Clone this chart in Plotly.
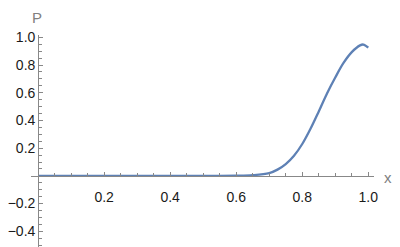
import plotly.graph_objects as go

# data
x_vals = [0.0, 0.1, 0.2, 0.3, 0.4, 0.5, 0.6, 0.65, 0.7, 0.725, 0.75, 0.775, 0.8,
          0.825, 0.85, 0.875, 0.9, 0.925, 0.95, 0.975, 0.985, 1.0]
p_vals = [0.0, 0.0, 0.0, 0.0, 0.0, 0.0, 0.001, 0.005, 0.02, 0.045, 0.085, 0.145, 0.23,
          0.34, 0.465, 0.595, 0.71, 0.815, 0.893, 0.942, 0.948, 0.925]

xtick_vals = [0.2, 0.4, 0.6, 0.8, 1.0]
xtick_text = ["0.2", "0.4", "0.6", "0.8", "1.0"]
ytick_vals = [-0.4, -0.2, 0.2, 0.4, 0.6, 0.8, 1.0]
ytick_text = ["\u22120.4", "\u22120.2", "0.2", "0.4", "0.6", "0.8", "1.0"]
xminor_vals = [0.05, 0.1, 0.15, 0.25, 0.3, 0.35, 0.45, 0.5, 0.55, 0.65, 0.7, 0.75,
               0.85, 0.9, 0.95]
yminor_vals = [-0.5, -0.45, -0.35, -0.3, -0.25, -0.15, -0.1, -0.05, 0.05, 0.1, 0.15,
               0.25, 0.3, 0.35, 0.45, 0.5, 0.55, 0.65, 0.7, 0.75, 0.85, 0.9, 0.95]
x_label = "x"
y_label = "P"

W, H = 400, 247
axis_color = "#888888"
label_color = "#1a1a1a"
title_color = "#808080"
font_family = "Liberation Sans, Arial, sans-serif"

# pixel layout
x0_px, xscale = 38.5, 333.5
y0_px, yscale = 174.1, 142.0
xd0, xd1 = 31, 378
yd_top = 30

xr0 = (xd0 - x0_px) / xscale
xr1 = xr0 + (xd1 - xd0) / xscale
yr1 = (y0_px - yd_top) / yscale
yr0 = yr1 - (H - yd_top) / yscale

fig = go.Figure()
fig.add_trace(go.Scatter(
    x=x_vals, y=p_vals, mode="lines",
    line=dict(color="#5E81B5", width=2.3, shape="spline", smoothing=1.0),
    hoverinfo="skip", showlegend=False,
))

fig.update_layout(
    width=W, height=H,
    margin=dict(l=0, r=0, t=0, b=0),
    paper_bgcolor="white", plot_bgcolor="white",
    font=dict(family=font_family, size=14, color=label_color),
    xaxis=dict(
        domain=[xd0 / W, xd1 / W], range=[xr0, xr1],
        anchor="free", position=(H - y0_px) / H,
        showgrid=False, zeroline=False,
        showline=True, linecolor=axis_color, linewidth=1,
        tickmode="array", tickvals=xtick_vals, ticktext=xtick_text,
        ticks="inside", ticklen=4, tickcolor=axis_color, tickwidth=1,
        minor=dict(tickmode="array", tickvals=xminor_vals, ticks="inside",
                   ticklen=2.5, tickcolor=axis_color, tickwidth=1, showgrid=False),
        tickfont=dict(size=14, color=label_color),
        ticklabelstandoff=8,
    ),
    yaxis=dict(
        domain=[0, (H - yd_top) / H], range=[yr0, yr1],
        anchor="free", position=x0_px / W,
        showgrid=False, zeroline=False,
        showline=True, linecolor=axis_color, linewidth=1,
        tickmode="array", tickvals=ytick_vals, ticktext=ytick_text,
        ticks="inside", ticklen=4, tickcolor=axis_color, tickwidth=1,
        minor=dict(tickmode="array", tickvals=yminor_vals, ticks="inside",
                   ticklen=2.5, tickcolor=axis_color, tickwidth=1, showgrid=False),
        tickfont=dict(size=14, color=label_color),
    ),
    annotations=[
        dict(text=y_label, x=37.7 / W, y=(H - 11.7) / H, xref="paper", yref="paper",
             showarrow=False, xanchor="center", yanchor="middle",
             font=dict(size=15, color=title_color, family=font_family)),
        dict(text=x_label, x=392.3 / W, y=(H - 175.7) / H, xref="paper", yref="paper",
             showarrow=False, xanchor="center", yanchor="middle",
             font=dict(size=15, color=title_color, family=font_family)),
    ],
)

fig.write_html("out.html")
